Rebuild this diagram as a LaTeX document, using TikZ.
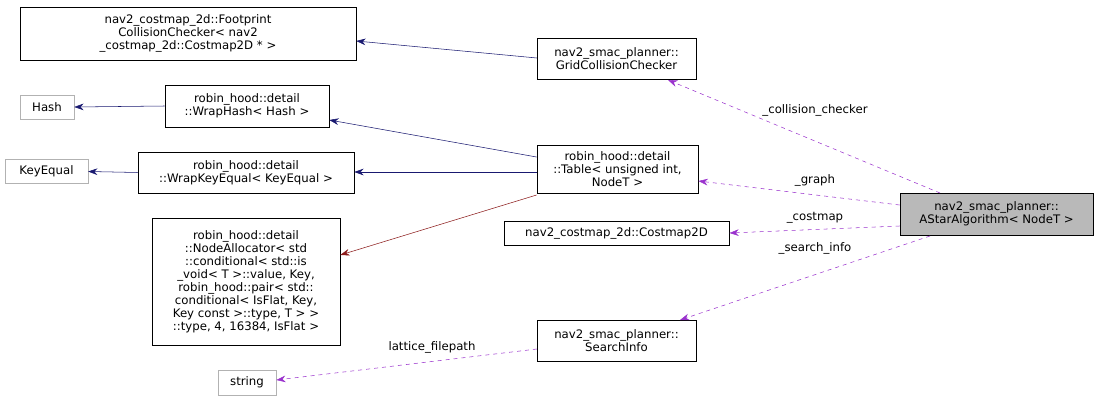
\documentclass[tikz,border=0pt]{standalone}
\usepackage{fontspec}
\setmainfont{DejaVu Sans}
\usetikzlibrary{arrows.meta}
\definecolor{inhblue}{RGB}{25,25,112}
\definecolor{inhred}{RGB}{139,26,26}
\definecolor{usepurple}{RGB}{154,50,205}
\tikzset{
  box/.style={draw=black, inner sep=1pt, align=center, font=\fontsize{8.8}{9.8}\selectfont},
  gbox/.style={box, draw=gray!60},
  inh/.style={draw=inhblue, -{Stealth[length=7pt,width=5pt]}},
  inh2/.style={draw=inhred, -{Stealth[length=7pt,width=5pt]}},
  use/.style={draw=usepurple, dashed, -{Stealth[length=7pt,width=5pt]}},
  lab/.style={font=\fontsize{8.8}{9.8}\selectfont}
}
\begin{document}
\begin{tikzpicture}[x=0.75pt,y=-0.75pt]

		\useasboundingbox (0,0) rectangle (1099,403);

		\node [box, minimum width=252pt, minimum height=40pt] (fp) at (188,33.5) {nav2\_costmap\_2d::Footprint\\CollisionChecker< nav2\\\_costmap\_2d::Costmap2D * >};
		\node [gbox, minimum width=40.5pt, minimum height=18pt] (hash) at (47,107) {Hash};
		\node [box, minimum width=123pt, minimum height=31.5pt] (wh) at (247,106) {robin\_hood::detail\\::WrapHash< Hash >};
		\node [gbox, minimum width=62pt, minimum height=18pt] (keq) at (46.5,171.5) {KeyEqual};
		\node [box, minimum width=162pt, minimum height=31pt] (wk) at (246,172.5) {robin\_hood::detail\\::WrapKeyEqual< KeyEqual >};
		\node [box, minimum width=141pt, minimum height=95pt] (na) at (246,281.5) {robin\_hood::detail\\::NodeAllocator< std\\::conditional< std::is\\\_void< T >::value, Key,\\ robin\_hood::pair< std::\\conditional< IsFlat, Key,\\ Key const >::type, T > >\\::type, 4, 16384, IsFlat >};
		\node [gbox, minimum width=43.5pt, minimum height=18.5pt] (str) at (247,382.5) {string};
		\node [box, minimum width=119pt, minimum height=31pt] (gcc) at (616.5,58.5) {nav2\_smac\_planner::\\GridCollisionChecker};
		\node [box, minimum width=121pt, minimum height=36pt] (tab) at (617.5,169) {robin\_hood::detail\\::Table< unsigned int,\\ NodeT >};
		\node [box, minimum width=169pt, minimum height=18pt] (cm) at (616.5,233) {nav2\_costmap\_2d::Costmap2D};
		\node [box, minimum width=119pt, minimum height=31pt] (si) at (616.5,340.5) {nav2\_smac\_planner::\\SearchInfo};
		\node [box, fill=gray!55, minimum width=145pt, minimum height=31.5pt] (as) at (996.5,214) {nav2\_smac\_planner::\\AStarAlgorithm< NodeT >};

		\draw [inh] (gcc.west |- 0,58) -- (fp.east |- 0,41);
		\draw [inh] (wh.west) -- (hash.east);
		\draw [inh] (tab.west |- 0,157) -- (wh.east |- 0,120);
		\draw [inh] (wk.west) -- (keq.east);
		\draw [inh] (tab.west |- 0,172) -- (wk.east |- 0,172);
		\draw [inh2] (tab.west |- 0,195) -- (na.east |- 0,255);

		\coordinate (c1) at (940,193);
		\coordinate (c2) at (668,80);
		\draw [use] (c1) -- (c2);
		\node [lab] (l1) at (815,110) {\_collision\_checker};
		\draw [use] (as.west |- 0,205) -- (tab.east |- 0,181);
		\node [lab] (l2) at (815,180) {\_graph};
		\draw [use] (as.west |- 0,226) -- (cm.east);
		\node [lab] (l3) at (815,218) {\_costmap};
		\coordinate (c3) at (930,236);
		\coordinate (c4) at (680,320);
		\draw [use] (c3) -- (c4);
		\node [lab] (l4) at (815,248) {\_search\_info};
		\draw [use] (si.west |- 0,349) -- (str.east |- 0,380);
		\node [lab] (l5) at (432,347) {lattice\_filepath};

\end{tikzpicture}
\end{document}
